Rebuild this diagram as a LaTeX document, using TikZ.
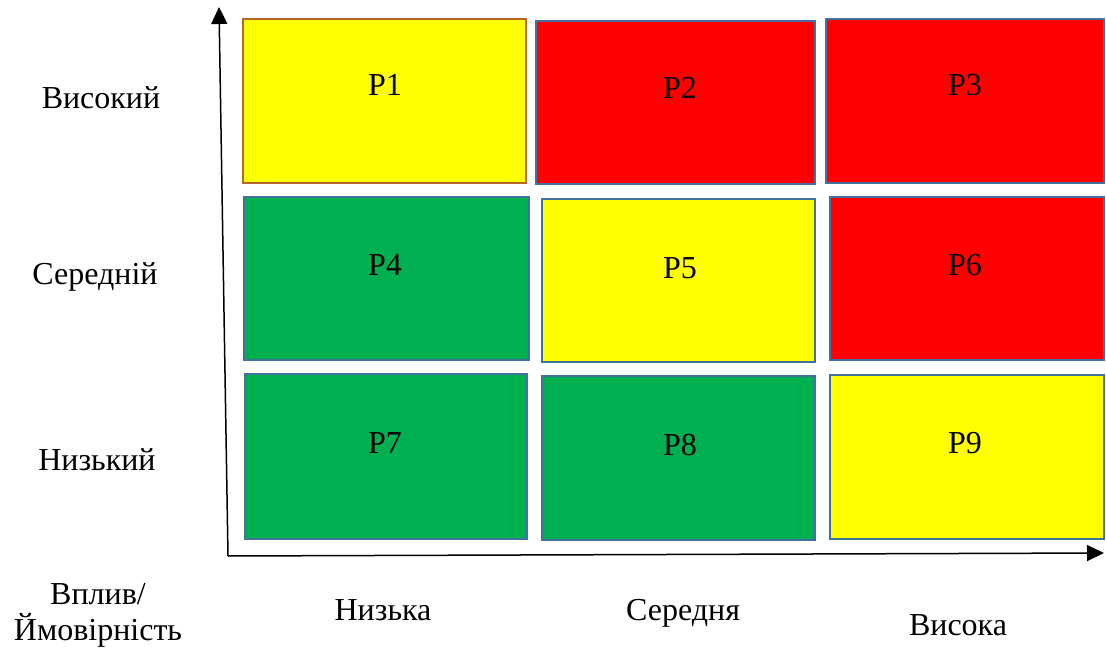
\documentclass[tikz,border=0pt]{standalone}
\usepackage{fontspec}
\setmainfont{Liberation Serif}
\usetikzlibrary{arrows.meta}
\definecolor{cellyellow}{HTML}{FFFF00}
\definecolor{cellred}{HTML}{FF0000}
\definecolor{cellgreen}{HTML}{00B050}
\definecolor{edgeblue}{HTML}{41719C}
\definecolor{edgebrown}{HTML}{B8652A}
\tikzset{
  cell/.style={draw=edgeblue, line width=2pt, inner sep=0pt},
  celltext/.style={font=\fontsize{32}{36}\selectfont, inner sep=0pt},
  axislabel/.style={font=\fontsize{32}{36}\selectfont, inner sep=0pt, align=center},
  axis/.style={line width=1.5pt, -{Triangle[length=17pt, width=16pt]}}
}
\begin{document}
\begin{tikzpicture}[x=1pt, y=-1pt]
\useasboundingbox (0,0) rectangle (1106,652);
% risk cells
\node[cell, draw=edgebrown, fill=cellyellow, minimum width=283pt, minimum height=164pt] (c1) at (384.5,101) {};
\node[cell, fill=cellred,    minimum width=279pt, minimum height=163pt] (c2) at (675.5,102.5) {};
\node[cell, fill=cellred,    minimum width=278pt, minimum height=164pt] (c3) at (965,101) {};
\node[cell, fill=cellgreen,  minimum width=285pt, minimum height=163pt] (c4) at (386.5,278.5) {};
\node[cell, fill=cellyellow, minimum width=273pt, minimum height=163pt] (c5) at (678.5,280.5) {};
\node[cell, fill=cellred,    minimum width=274pt, minimum height=163pt] (c6) at (967,278.5) {};
\node[cell, fill=cellgreen,  minimum width=282pt, minimum height=165pt] (c7) at (386,456.5) {};
\node[cell, fill=cellgreen,  minimum width=273pt, minimum height=164pt] (c8) at (678.5,458) {};
\node[cell, fill=cellyellow, minimum width=274pt, minimum height=164pt] (c9) at (967,457) {};
% cell labels
\node[celltext] (t1) at (385,85) {Р1};
\node[celltext] (t2) at (680,88) {Р2};
\node[celltext] (t3) at (965,85) {Р3};
\node[celltext] (t4) at (385,265) {Р4};
\node[celltext] (t5) at (680,268) {Р5};
\node[celltext] (t6) at (965,265) {Р6};
\node[celltext] (t7) at (385,443) {Р7};
\node[celltext] (t8) at (680,445) {Р8};
\node[celltext] (t9) at (965,443) {Р9};
% axes
\coordinate (origin) at (228,556);
\coordinate (ytip) at (219,7);
\coordinate (xtip) at (1104,553);
\draw[axis] (origin) -- (ytip);
\draw[axis] (origin) -- (xtip);
% row labels
\node[axislabel] (r1) at (101,98) {Високий};
\node[axislabel] (r2) at (95,277) {Середній};
\node[axislabel] (r3) at (97,460) {Низький};
% column labels
\node[axislabel] (corner) at (98,615) {Вплив/\\Ймовірність};
\node[axislabel] (k1) at (383,610) {Низька};
\node[axislabel] (k2) at (683,613) {Середня};
\node[axislabel] (k3) at (958,625) {Висока};
\end{tikzpicture}
\end{document}
